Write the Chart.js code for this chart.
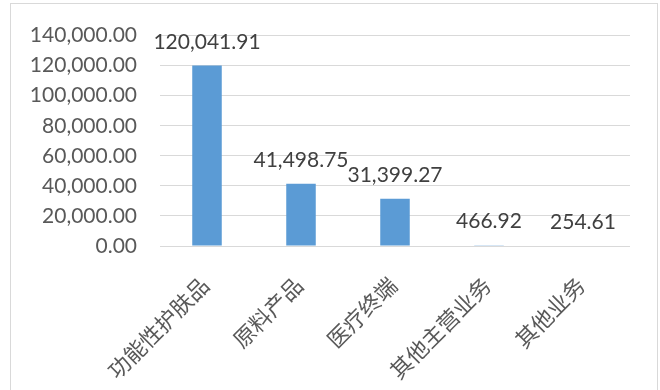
<!DOCTYPE html>
<html>
<head>
<meta charset="utf-8">
<script src="https://cdn.jsdelivr.net/npm/chart.js@4.4.1/dist/chart.umd.min.js"></script>
<style>
  html, body { margin: 0; padding: 0; background: #ffffff; }
  #wrap { position: relative; width: 660px; height: 390px; }
</style>
</head>
<body>
<div id="wrap"><canvas id="c" width="660" height="390"></canvas></div>
<script>
const categories = ['功能性护肤品', '原料产品', '医疗终端', '其他主营业务', '其他业务'];
const revenueValues = [120041.91, 41498.75, 31399.27, 466.92, 254.61];
const yTickMin = 0;
const yTickMax = 140000;
const yTickStep = 20000;

const NUM_FONT = 'Lato, "Open Sans", sans-serif';
const CJK_FONT = '"Noto Sans CJK SC", sans-serif';

function fmt(v) {
  return v.toLocaleString('en-US', { minimumFractionDigits: 2, maximumFractionDigits: 2 });
}

const frame = {
  id: 'frame',
  beforeDraw(chart) {
    const ctx = chart.ctx;
    ctx.save();
    ctx.fillStyle = '#ffffff';
    ctx.fillRect(0, 0, chart.width, chart.height);
    ctx.strokeStyle = '#d9d9d9';
    ctx.lineWidth = 1;
    ctx.strokeRect(10.5, 3.5, 647, 400);
    ctx.restore();
  }
};

const valueLabels = {
  id: 'valueLabels',
  afterDatasetsDraw(chart) {
    const ctx = chart.ctx;
    const meta = chart.getDatasetMeta(0);
    ctx.save();
    ctx.font = '21px ' + NUM_FONT;
    ctx.fillStyle = '#404040';
    ctx.textAlign = 'center';
    ctx.textBaseline = 'alphabetic';
    meta.data.forEach((bar, i) => {
      ctx.fillText(fmt(revenueValues[i]), bar.x, bar.y - 17);
    });
    ctx.restore();
  }
};

new Chart(document.getElementById('c'), {
  type: 'bar',
  data: {
    labels: categories,
    datasets: [{
      data: revenueValues,
      backgroundColor: '#5B9BD5',
      borderWidth: 0,
      barPercentage: 0.314,
      categoryPercentage: 1.0
    }]
  },
  options: {
    responsive: false,
    animation: false,
    devicePixelRatio: 1,
    layout: { padding: { left: 0, top: 34, right: 30, bottom: 0 } },
    plugins: {
      legend: { display: false },
      tooltip: { enabled: false }
    },
    scales: {
      x: {
        grid: { display: false, drawTicks: false },
        border: { display: false },
        ticks: {
          color: '#595959',
          font: { family: CJK_FONT, size: 22 },
          minRotation: 45,
          maxRotation: 45,
          padding: 26,
          labelOffset: -2,
          autoSkip: false
        },
        afterFit(scale) { scale.height = 144; }
      },
      y: {
        min: yTickMin,
        max: yTickMax,
        grid: { color: '#d9d9d9', lineWidth: 1, drawTicks: false },
        border: { display: false },
        ticks: {
          stepSize: yTickStep,
          color: '#595959',
          font: { family: NUM_FONT, size: 21 },
          padding: 23,
          callback: (v) => fmt(v)
        },
        afterFit(scale) { scale.width = 160; }
      }
    }
  },
  plugins: [frame, valueLabels]
});
</script>
</body>
</html>
